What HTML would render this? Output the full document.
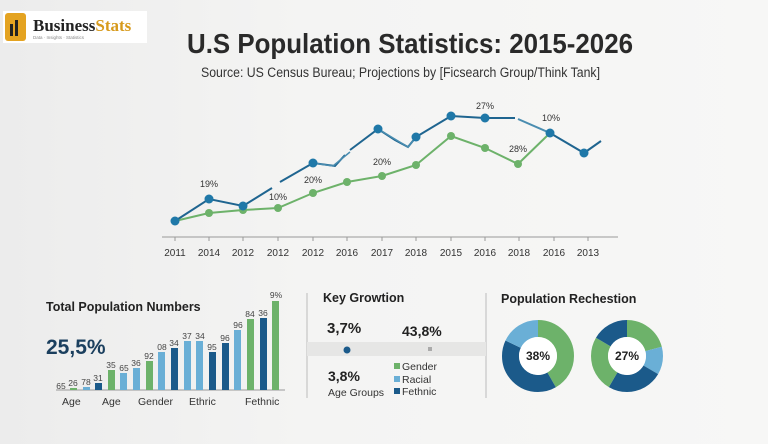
<!DOCTYPE html>
<html><head><meta charset="utf-8"><style>
body{margin:0;width:768px;height:439px;overflow:hidden;background:linear-gradient(90deg,#ececec,#f4f4f3 40%,#f7f7f6);font-family:"Liberation Sans",sans-serif;}
</style></head><body>
<svg width="768" height="439" xmlns="http://www.w3.org/2000/svg" font-family="Liberation Sans, sans-serif">
<rect x="3" y="11" width="144" height="32" fill="#fff"/>
<rect x="5" y="13" width="21" height="28" rx="3" fill="#e4a321"/>
<rect x="10" y="24" width="3" height="12" fill="#222"/><rect x="15" y="20" width="3" height="16" fill="#222"/>
<text x="33" y="31" font-family="Liberation Serif, serif" font-weight="bold" font-size="17" fill="#222">Business<tspan fill="#d79a1c">Stats</tspan></text>
<text x="33" y="39" font-size="4.5" fill="#888">Data · Insights · Statistics</text>
<text x="187" y="53" font-weight="bold" font-size="28" fill="#2a2a2a" textLength="446" lengthAdjust="spacingAndGlyphs">U.S Population Statistics: 2015-2026</text>
<text x="201" y="77" font-size="13.5" fill="#333" textLength="399" lengthAdjust="spacingAndGlyphs">Source: US Census Bureau; Projections by [Ficsearch Group/Think Tank]</text>
<line x1="162" y1="237" x2="618" y2="237" stroke="#999" stroke-width="1"/>
<g stroke="#999">
<line x1="175" y1="237" x2="175" y2="241"/><line x1="209" y1="237" x2="209" y2="241"/><line x1="243" y1="237" x2="243" y2="241"/><line x1="278" y1="237" x2="278" y2="241"/><line x1="313" y1="237" x2="313" y2="241"/><line x1="347" y1="237" x2="347" y2="241"/><line x1="382" y1="237" x2="382" y2="241"/><line x1="416" y1="237" x2="416" y2="241"/><line x1="451" y1="237" x2="451" y2="241"/><line x1="485" y1="237" x2="485" y2="241"/><line x1="519" y1="237" x2="519" y2="241"/><line x1="554" y1="237" x2="554" y2="241"/><line x1="588" y1="237" x2="588" y2="241"/>
</g>
<g font-size="10" fill="#333" text-anchor="middle">
<text x="175" y="256">2011</text><text x="209" y="256">2014</text><text x="243" y="256">2012</text><text x="278" y="256">2012</text><text x="313" y="256">2012</text><text x="347" y="256">2016</text><text x="382" y="256">2017</text><text x="416" y="256">2018</text><text x="451" y="256">2015</text><text x="485" y="256">2016</text><text x="519" y="256">2018</text><text x="554" y="256">2016</text><text x="588" y="256">2013</text>
</g>
<polyline fill="none" stroke="#6db26a" stroke-width="2" points="175,221 209,213 243,210 278,208 313,193 347,182 382,176 416,165 451,136 485,148 518,164 550,133"/>
<g fill="#6db26a"><circle cx="209" cy="213" r="4"/><circle cx="243" cy="210" r="4"/><circle cx="278" cy="208" r="4"/><circle cx="313" cy="193" r="4"/><circle cx="347" cy="182" r="4"/><circle cx="382" cy="176" r="4"/><circle cx="416" cy="165" r="4"/><circle cx="451" cy="136" r="4"/><circle cx="485" cy="148" r="4"/><circle cx="518" cy="164" r="4"/></g>
<polyline fill="none" stroke="#1f6590" stroke-width="2" points="175,221 209,199 243,206 272,188"/>
<polyline fill="none" stroke="#1f6590" stroke-width="2" points="280,182 313,163 335,166 345,155"/>
<polyline fill="none" stroke="#1f6590" stroke-width="2" points="350,150 378,129 395,140 408,147 416,137 451,116 485,118 515,118"/>
<polyline fill="none" stroke="#4a8db0" stroke-width="1.5" points="313,163 333,166 350,152"/>
<polyline fill="none" stroke="#4a8db0" stroke-width="1.5" points="378,129 408,147 416,137"/>
<polyline fill="none" stroke="#4a8db0" stroke-width="2" points="518,119 550,133"/>
<polyline fill="none" stroke="#1f6590" stroke-width="2" points="550,133 584,153 601,141"/>
<g fill="#1f78a8"><circle cx="175" cy="221" r="4.5"/><circle cx="209" cy="199" r="4.5"/><circle cx="243" cy="206" r="4.5"/><circle cx="313" cy="163" r="4.5"/><circle cx="378" cy="129" r="4.5"/><circle cx="416" cy="137" r="4.5"/><circle cx="451" cy="116" r="4.5"/><circle cx="485" cy="118" r="4.5"/><circle cx="550" cy="133" r="4.5"/><circle cx="584" cy="153" r="4.5"/></g>
<g font-size="9" fill="#333" text-anchor="middle">
<text x="209" y="187">19%</text><text x="278" y="200">10%</text><text x="313" y="183">20%</text><text x="382" y="165">20%</text><text x="485" y="109">27%</text><text x="518" y="152">28%</text><text x="551" y="121">10%</text>
</g>
<text x="46" y="311" font-weight="bold" font-size="12.5" fill="#222">Total Population Numbers</text>
<text x="46" y="354" font-weight="bold" font-size="21" fill="#1b3f5e">25,5%</text>
<line x1="56" y1="390" x2="285" y2="390" stroke="#999"/>
<g>
<rect x="70" y="388" width="7" height="2" fill="#6db26a"/>
<rect x="83" y="387" width="7" height="3" fill="#6aafd6"/>
<rect x="95" y="383" width="7" height="7" fill="#1b5a8a"/>
<rect x="108" y="370" width="7" height="20" fill="#6db26a"/>
<rect x="120" y="373" width="7" height="17" fill="#6aafd6"/>
<rect x="133" y="368" width="7" height="22" fill="#6aafd6"/>
<rect x="146" y="361" width="7" height="29" fill="#6db26a"/>
<rect x="158" y="352" width="7" height="38" fill="#6aafd6"/>
<rect x="171" y="348" width="7" height="42" fill="#1b5a8a"/>
<rect x="184" y="341" width="7" height="49" fill="#6aafd6"/>
<rect x="196" y="341" width="7" height="49" fill="#6aafd6"/>
<rect x="209" y="352" width="7" height="38" fill="#1b5a8a"/>
<rect x="222" y="343" width="7" height="47" fill="#1b5a8a"/>
<rect x="234" y="330" width="7" height="60" fill="#6aafd6"/>
<rect x="247" y="319" width="7" height="71" fill="#6db26a"/>
<rect x="260" y="318" width="7" height="72" fill="#1b5a8a"/>
<rect x="272" y="301" width="7" height="89" fill="#6db26a"/>
</g>
<g font-size="8.5" fill="#444" text-anchor="middle">
<text x="61" y="389">65</text><text x="73" y="386">26</text><text x="86" y="385">78</text><text x="98" y="381">31</text><text x="111" y="368">35</text><text x="124" y="371">65</text><text x="136" y="366">36</text><text x="149" y="359">92</text><text x="162" y="350">08</text><text x="174" y="346">34</text><text x="187" y="339">37</text><text x="200" y="339">34</text><text x="212" y="350">95</text><text x="225" y="341">96</text><text x="238" y="328">96</text><text x="250" y="317">84</text><text x="263" y="316">36</text><text x="276" y="298">9%</text>
</g>
<g font-size="10.5" fill="#333">
<text x="62" y="405">Age</text><text x="102" y="405">Age</text><text x="138" y="405">Gender</text><text x="189" y="405">Ethric</text><text x="245" y="405">Fethnic</text>
</g>
<line x1="307" y1="293" x2="307" y2="398" stroke="#bbb"/>
<line x1="486" y1="293" x2="486" y2="398" stroke="#bbb"/>
<rect x="307" y="342" width="179" height="14" fill="#e6e6e5"/>
<text x="323" y="302" font-weight="bold" font-size="12.5" fill="#222">Key Growtion</text>
<text x="327" y="333" font-weight="bold" font-size="15" fill="#222">3,7%</text>
<text x="402" y="336" font-weight="bold" font-size="14" fill="#222">43,8%</text>
<circle cx="347" cy="350" r="3.5" fill="#1b5a8a"/>
<rect x="428" y="347" width="4" height="4" fill="#aaa"/>
<text x="328" y="381" font-weight="bold" font-size="14" fill="#222">3,8%</text>
<text x="328" y="396" font-size="10.5" fill="#333">Age Groups</text>
<rect x="394" y="363" width="6" height="6" fill="#6db26a"/><text x="402" y="370" font-size="10.5" fill="#333">Gender</text>
<rect x="394" y="376" width="6" height="6" fill="#6aafd6"/><text x="402" y="383" font-size="10.5" fill="#333">Racial</text>
<rect x="394" y="388" width="6" height="6" fill="#1b5a8a"/><text x="402" y="395" font-size="10.5" fill="#333">Fethnic</text>
<text x="501" y="303" font-weight="bold" font-size="12.5" fill="#222">Population Rechestion</text>
<g transform="translate(538,356) rotate(-90)" fill="none" stroke-width="17">
<circle r="27.5" stroke="#6db26a" stroke-dasharray="72 200.8"/>
<circle r="27.5" stroke="#1b5a8a" stroke-dasharray="0 72 69.6 100" />
<circle r="27.5" stroke="#6aafd6" stroke-dasharray="0 141.6 31.2 10"/>
</g>
<circle cx="538" cy="356" r="19" fill="#fff"/>
<text x="538" y="360" text-anchor="middle" font-size="12" font-weight="bold" fill="#222">38%</text>
<g transform="translate(627,356) rotate(-90)" fill="none" stroke-width="17">
<circle r="27.5" stroke="#6db26a" stroke-dasharray="36 136.8"/>
<circle r="27.5" stroke="#6aafd6" stroke-dasharray="0 36 21.6 120"/>
<circle r="27.5" stroke="#1b5a8a" stroke-dasharray="0 57.6 43.2 80"/>
<circle r="27.5" stroke="#6db26a" stroke-dasharray="0 100.8 43.2 40"/>
<circle r="27.5" stroke="#1b5a8a" stroke-dasharray="0 144 28.8 10"/>
</g>
<circle cx="627" cy="356" r="19" fill="#fff"/>
<text x="627" y="360" text-anchor="middle" font-size="12" font-weight="bold" fill="#222">27%</text>
</svg>
</body></html>
